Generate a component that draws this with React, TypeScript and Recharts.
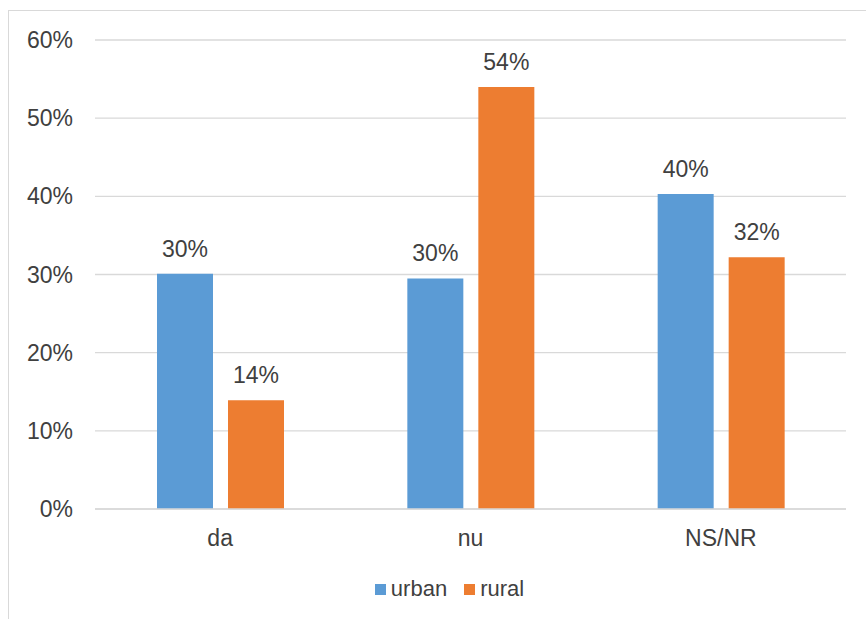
import { BarChart, Bar, XAxis, YAxis, CartesianGrid, Legend, LabelList } from "recharts";

const CATEGORIES = ["da", "nu", "NS/NR"];
const URBAN = [0.301, 0.295, 0.403];
const RURAL = [0.139, 0.54, 0.322];
const Y_TICKS = [0, 0.1, 0.2, 0.3, 0.4, 0.5, 0.6];

const BLUE = "#5B9BD5";
const ORANGE = "#ED7D31";
const TEXT = "#404040";
const GRID = "#D9D9D9";

const pct = (v: number) => `${Math.round(v * 100)}%`;

function ChartLegend() {
  const items = [
    { name: "urban", color: BLUE },
    { name: "rural", color: ORANGE },
  ];
  return (
    <div style={{ display: "flex", justifyContent: "center", alignItems: "center", height: 30 }}>
      {items.map((it, i) => (
        <div key={it.name} style={{ display: "flex", alignItems: "center", marginLeft: i ? 17 : 0 }}>
          <span style={{ width: 11, height: 11, background: it.color, marginRight: 5, display: "inline-block" }} />
          <span style={{ fontSize: 22, color: TEXT }}>{it.name}</span>
        </div>
      ))}
    </div>
  );
}

export default function App() {
  const data = CATEGORIES.map((c, i) => ({ name: c, urban: URBAN[i], rural: RURAL[i] }));

  return (
    <div
      style={{
        position: "fixed",
        left: 8,
        top: 10,
        right: 0,
        bottom: 0,
        borderLeft: `1px solid ${GRID}`,
        borderTop: `1px solid ${GRID}`,
        overflow: "hidden",
        background: "#fff",
        fontFamily: '"Liberation Sans", Arial, sans-serif',
      }}
    >
      <BarChart
        width={857}
        height={608}
        data={data}
        margin={{ top: 29, right: 20, bottom: 15, left: 0 }}
        barSize={56}
        barGap={15}
      >
        <CartesianGrid vertical={false} stroke={GRID} strokeWidth={1.3} />
        <XAxis
          dataKey="name"
          height={65}
          tickSize={0}
          tickMargin={21}
          tickLine={false}
          axisLine={{ stroke: GRID, strokeWidth: 1.3 }}
          tick={{ fontSize: 23, fill: TEXT }}
        />
        <YAxis
          width={86}
          domain={[0, 0.6]}
          ticks={Y_TICKS}
          tickFormatter={pct}
          tickSize={0}
          tickMargin={22}
          tickLine={false}
          axisLine={false}
          tick={{ fontSize: 23, fill: TEXT }}
        />
        <Legend
          verticalAlign="bottom"
          wrapperStyle={{ left: 0, width: 881 }}
          content={() => <ChartLegend />}
        />
        <Bar dataKey="urban" fill={BLUE} isAnimationActive={false}>
          <LabelList dataKey="urban" position="top" offset={17} formatter={(v: any) => pct(Number(v))} style={{ fontSize: 23, fill: TEXT }} />
        </Bar>
        <Bar dataKey="rural" fill={ORANGE} isAnimationActive={false}>
          <LabelList dataKey="rural" position="top" offset={17} formatter={(v: any) => pct(Number(v))} style={{ fontSize: 23, fill: TEXT }} />
        </Bar>
      </BarChart>
    </div>
  );
}
